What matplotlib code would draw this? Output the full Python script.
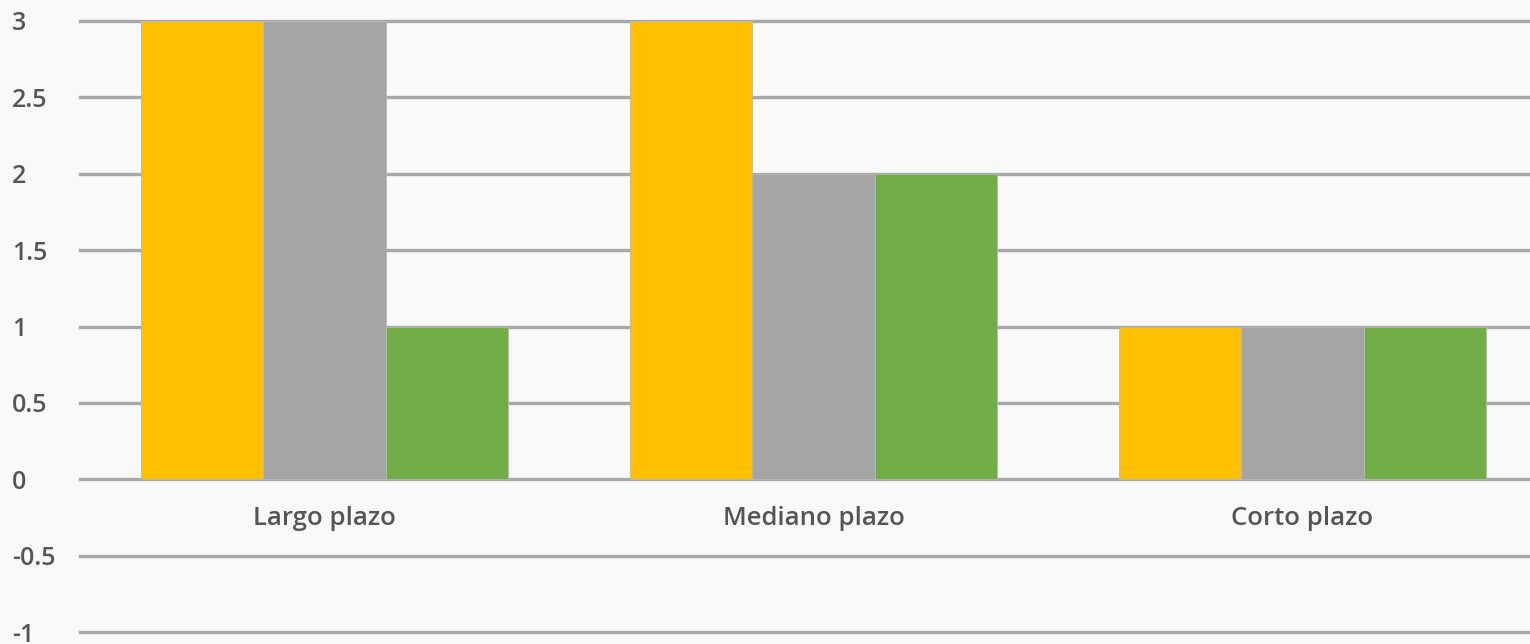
import matplotlib
matplotlib.use("Agg")
import matplotlib.pyplot as plt
import numpy as np

categories = ["Largo plazo", "Mediano plazo", "Corto plazo"]
series_yellow = [3, 3, 1]
series_gray = [3, 2, 1]
series_green = [1, 2, 1]
yticks = [-1, -0.5, 0, 0.5, 1, 1.5, 2, 2.5, 3]
ytick_labels = ["-1", "-0.5", "0", "0.5", "1", "1.5", "2", "2.5", "3"]
colors = ["#FFC000", "#A5A5A5", "#70AD47"]

bg = "#F9F9F9"
fig = plt.figure(figsize=(15.3, 6.44), dpi=100, facecolor=bg)
ax = fig.add_axes([80/1530, 1-632/644, 1467/1530, (632-21)/644])
ax.set_facecolor(bg)

x = np.arange(len(categories))
w = 0.25
for i, (vals, c) in enumerate(zip([series_yellow, series_gray, series_green], colors)):
    ax.bar(x + (i-1)*w, vals, width=w, color=c, edgecolor="#B8B8B8", linewidth=0.6, zorder=3)

ax.set_xlim(-0.5, 2.5)
ax.set_ylim(-1, 3)
ax.set_yticks(yticks)
ax.set_yticklabels(ytick_labels)
ax.grid(axis="y", color="#A8A8A8", linewidth=2.4, zorder=0)
for gl in ax.get_ygridlines():
    gl.set_clip_on(False)
ax.set_axisbelow(True)
for s in ["left", "right", "top"]:
    ax.spines[s].set_visible(False)
ax.spines["bottom"].set_position(("data", 0))
ax.spines["bottom"].set_visible(False)

ax.set_xticks(x)
ax.set_xticklabels(categories)
ax.tick_params(axis="x", length=0, pad=19, labelsize=18.5, labelcolor="#555555")
ax.tick_params(axis="y", length=0, pad=49, labelsize=18, labelcolor="#555555")
for lab in ax.get_yticklabels():
    lab.set_horizontalalignment("left")
    lab.set_fontfamily("Open Sans")
    lab.set_fontweight("semibold")
for lab in ax.get_xticklabels():
    lab.set_fontfamily("Open Sans")
    lab.set_fontweight("semibold")

fig.savefig("out.png", dpi=100, facecolor=bg)
